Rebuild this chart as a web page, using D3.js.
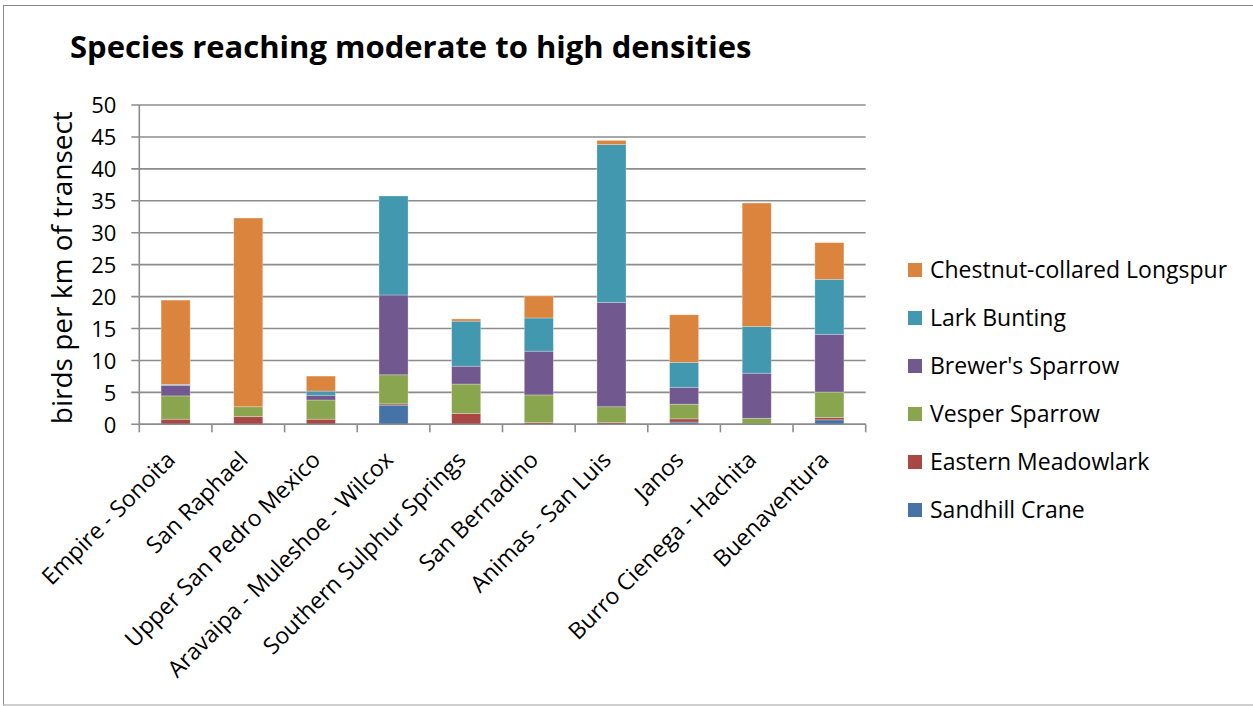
<!DOCTYPE html>
<html>
<head>
<meta charset="utf-8">
<script src="https://cdn.jsdelivr.net/npm/d3@7"></script>
<style>
  html, body { margin: 0; padding: 0; background: #fff; }
  svg { display: block; font-family: "Open Sans", Lato, sans-serif; }
</style>
</head>
<body>
<svg id="chart" width="1253" height="706"></svg>
<script>
const categories = ["Empire - Sonoita", "San Raphael", "Upper San Pedro Mexico", "Aravaipa - Muleshoe - Wilcox",
  "Southern Sulphur Springs", "San Bernadino", "Animas - San Luis", "Janos", "Burro Cienega - Hachita", "Buenaventura"];
const seriesNames = ["Sandhill Crane", "Eastern Meadowlark", "Vesper Sparrow", "Brewer's Sparrow", "Lark Bunting", "Chestnut-collared Longspur"];
const sandhillCrane      = [0,    0,    0,    3.0,  0,    0,    0,    0.35, 0,    0.7];
const easternMeadowlark  = [0.8,  1.2,  0.8,  0.2,  1.7,  0.3,  0.3,  0.5,  0,    0.35];
const vesperSparrow      = [3.65, 1.55, 3.0,  4.55, 4.6,  4.3,  2.45, 2.3,  0.95, 4.0];
const brewersSparrow     = [1.65, 0,    0.75, 12.5, 2.8,  6.85, 16.35,2.65, 7.05, 9.05];
const larkBunting        = [0.15, 0,    0.65, 15.5, 7.05, 5.2,  24.7, 3.9,  7.3,  8.6];
const chestnutLongspur   = [13.2, 29.55,2.35, 0,    0.35, 3.45, 0.65, 7.45, 19.35,5.75];
const yTicks = [0, 5, 10, 15, 20, 25, 30, 35, 40, 45, 50];
const colors = ["#4572A7", "#AA4643", "#89A54E", "#71588F", "#4198AF", "#DB843D"];

const seriesValues = [sandhillCrane, easternMeadowlark, vesperSparrow, brewersSparrow, larkBunting, chestnutLongspur];
const rows = categories.map((c, i) => {
  const r = { cat: c };
  seriesNames.forEach((s, j) => r[s] = seriesValues[j][i]);
  return r;
});

const svg = d3.select("#chart");
const W = 1253, H = 706;

// outer frame
svg.append("rect").attr("x", 3.5).attr("y", 5.5).attr("width", W + 5).attr("height", H - 6.5)
  .attr("fill", "#fff").attr("stroke", "#8a8a8a").attr("stroke-width", 1);
svg.append("line").attr("x1", 3.5).attr("x2", W).attr("y1", 705).attr("y2", 705)
  .attr("stroke", "#d9d9d9").attr("stroke-width", 1);

const plot = { left: 139.3, right: 865.7, top: 105, bottom: 424.3 };

const x = d3.scaleBand().domain(categories).range([plot.left, plot.right]).paddingInner(0.6).paddingOuter(0.3);
const xb = d3.scaleBand().domain(categories).range([plot.left, plot.right]);
const y = d3.scaleLinear().domain([0, 50]).range([plot.bottom, plot.top]);

// gridlines (extend left as tick marks)
svg.append("g").attr("class", "grid")
  .selectAll("line").data(yTicks).join("line")
  .attr("x1", plot.left - 8).attr("x2", plot.right)
  .attr("y1", d => y(d)).attr("y2", d => y(d))
  .attr("stroke", "#8c8c8c").attr("stroke-width", 1.6);

// y axis line
svg.append("line").attr("x1", plot.left).attr("x2", plot.left)
  .attr("y1", plot.top).attr("y2", plot.bottom + 1)
  .attr("stroke", "#8c8c8c").attr("stroke-width", 1.6);

// y tick labels via axis
const yAxis = d3.axisLeft(y).tickValues(yTicks).tickSize(0).tickPadding(0);
const yg = svg.append("g").attr("transform", `translate(${plot.left - 23},0)`).call(yAxis);
yg.select(".domain").remove();
yg.selectAll("text").attr("font-size", 22).attr("fill", "#000").attr("font-family", "'Open Sans', sans-serif").attr("dy", "0.35em");

// stacked bars
const stack = d3.stack().keys(seriesNames);
const stacked = stack(rows);
svg.append("g").selectAll("g").data(stacked).join("g")
  .attr("fill", (d, i) => colors[i])
  .selectAll("rect").data(d => d).join("rect")
  .attr("x", d => x(d.data.cat))
  .attr("width", x.bandwidth())
  .attr("y", d => y(d[1]))
  .attr("height", d => Math.max(0, y(d[0]) - y(d[1])))
  .attr("stroke", d => (d[1] - d[0]) > 0 ? "rgba(255,255,255,0.35)" : "none")
  .attr("stroke-width", 0.8);

// x axis
const xAxisLine = svg.append("g");
xAxisLine.append("line").attr("x1", plot.left).attr("x2", plot.right)
  .attr("y1", plot.bottom).attr("y2", plot.bottom)
  .attr("stroke", "#8c8c8c").attr("stroke-width", 1.6);
const boundaries = categories.map(c => xb(c)).concat([plot.right]);
xAxisLine.selectAll("line.tick").data(boundaries).join("line").attr("class", "tick")
  .attr("x1", d => d).attr("x2", d => d)
  .attr("y1", plot.bottom).attr("y2", plot.bottom + 8)
  .attr("stroke", "#8c8c8c").attr("stroke-width", 1.6);

// x labels
svg.append("g").selectAll("text").data(categories).join("text")
  .attr("transform", d => `translate(${xb(d) + xb.bandwidth() / 2 + 1},${plot.bottom + 37}) rotate(-45)`)
  .attr("text-anchor", "end")
  .attr("font-size", 23)
  .attr("fill", "#000")
  .text(d => d);

// y axis title
svg.append("text")
  .attr("transform", `translate(72,${(plot.top + plot.bottom) / 2 + 3}) rotate(-90)`)
  .attr("text-anchor", "middle")
  .attr("font-size", 28)
  .attr("fill", "#000")
  .text("birds per km of transect");

// title
svg.append("text")
  .attr("x", 70).attr("y", 58)
  .attr("font-size", 31).attr("font-weight", "bold")
  .attr("fill", "#000")
  .text("Species reaching moderate to high densities");

// legend
const legendOrder = seriesNames.slice().reverse();
const lg = svg.append("g").selectAll("g").data(legendOrder).join("g")
  .attr("transform", (d, i) => `translate(908,${270 + i * 48})`);
lg.append("rect").attr("x", 0).attr("y", -7).attr("width", 14).attr("height", 14)
  .attr("fill", d => colors[seriesNames.indexOf(d)]);
lg.append("text").attr("x", 22).attr("y", 0).attr("dy", "0.35em")
  .attr("font-size", 23).attr("fill", "#000").text(d => d);
</script>
</body>
</html>
